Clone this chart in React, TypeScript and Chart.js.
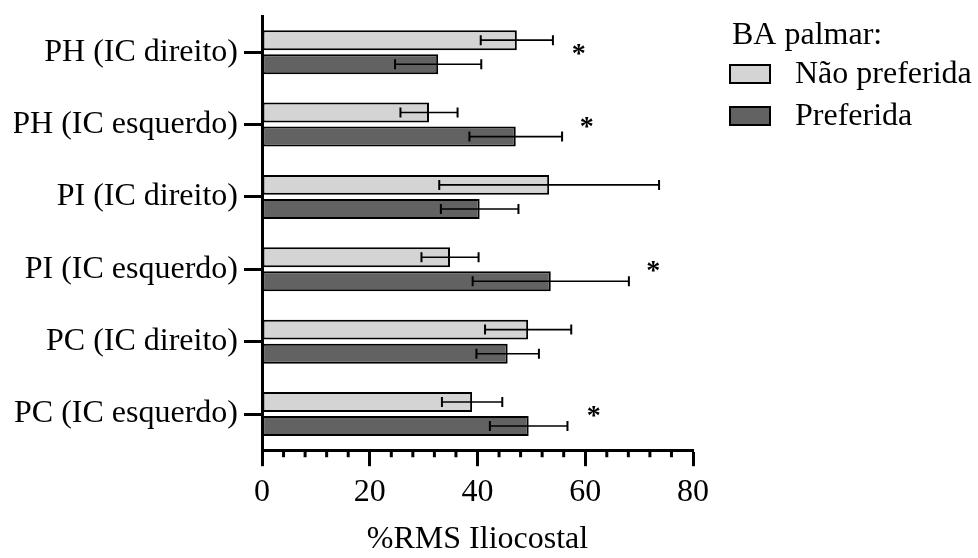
import { useEffect, useRef } from 'react';
import { Chart, registerables } from 'chart.js';

Chart.register(...registerables);

const categories = [
  'PH (IC direito)',
  'PH (IC esquerdo)',
  'PI (IC direito)',
  'PI (IC esquerdo)',
  'PC (IC direito)',
  'PC (IC esquerdo)',
];
const seriesNames = ['Não preferida', 'Preferida'];
const naoPreferida = [47.3, 31.0, 53.3, 34.9, 49.4, 39.0];
const naoPreferidaSD = [6.7, 5.3, 20.4, 5.3, 8.0, 5.6];
const preferida = [32.7, 47.1, 40.4, 53.6, 45.6, 49.5];
const preferidaSD = [8.0, 8.6, 7.2, 14.5, 5.8, 7.2];
const asteriskAt: (number | null)[] = [58.8, 60.3, null, 72.6, null, 61.6];
const legendTitle = 'BA palmar:';
const xMin = 0;
const xMax = 80;
const xMajorStep = 20;
const xMinorStep = 4;

const FONT = "'Liberation Serif', 'Times New Roman', serif";

const errorBars = {
  id: 'errorBars',
  afterDatasetsDraw(chart: any) {
    const ctx = chart.ctx;
    const xs = chart.scales.x;
    chart.data.datasets.forEach((ds: any, di: number) => {
      const meta = chart.getDatasetMeta(di);
      meta.data.forEach((bar: any, i: number) => {
        const v = ds.data[i];
        const e = ds.errors[i];
        const x1 = xs.getPixelForValue(v - e);
        const x2 = xs.getPixelForValue(v + e);
        const y = bar.y;
        ctx.save();
        ctx.strokeStyle = '#000';
        ctx.lineWidth = 1.6;
        ctx.beginPath();
        ctx.moveTo(x1, y);
        ctx.lineTo(x2, y);
        ctx.stroke();
        ctx.lineWidth = 2;
        ctx.beginPath();
        ctx.moveTo(x1, y - 5);
        ctx.lineTo(x1, y + 5);
        ctx.moveTo(x2, y - 5);
        ctx.lineTo(x2, y + 5);
        ctx.stroke();
        ctx.restore();
      });
    });
  },
};

const minorTicks = {
  id: 'minorTicks',
  afterDraw(chart: any) {
    const ctx = chart.ctx;
    const xs = chart.scales.x;
    const y0 = chart.chartArea.bottom;
    ctx.save();
    ctx.strokeStyle = '#000';
    ctx.lineWidth = 3;
    ctx.beginPath();
    for (let v = xMin; v <= xMax; v += xMinorStep) {
      if (v % xMajorStep === 0) continue;
      const px = xs.getPixelForValue(v);
      ctx.moveTo(px, y0);
      ctx.lineTo(px, y0 + 7);
    }
    ctx.stroke();
    ctx.restore();
  },
};

const asterisks = {
  id: 'asterisks',
  afterDatasetsDraw(chart: any) {
    const ctx = chart.ctx;
    const xs = chart.scales.x;
    const ys = chart.scales.y;
    ctx.save();
    ctx.fillStyle = '#000';
    ctx.font = `bold 28px ${FONT}`;
    ctx.textAlign = 'center';
    ctx.textBaseline = 'alphabetic';
    asteriskAt.forEach((v, i) => {
      if (v === null) return;
      ctx.fillText('*', xs.getPixelForValue(v), ys.getPixelForValue(i) + 10);
    });
    ctx.restore();
  },
};

// Legend drawn to the right of the plot, using the datasets' own labels and colours
const sideLegend = {
  id: 'sideLegend',
  afterDraw(chart: any) {
    const ctx = chart.ctx;
    const left = chart.chartArea.right + 36;
    const top = chart.chartArea.top;
    ctx.save();
    ctx.fillStyle = '#000';
    ctx.font = `32px ${FONT}`;
    ctx.textAlign = 'left';
    ctx.textBaseline = 'middle';
    ctx.fillText(legendTitle, left + 3, top + 20);
    chart.data.datasets.forEach((ds: any, i: number) => {
      const cy = top + 58 + i * 42;
      ctx.fillStyle = ds.backgroundColor;
      ctx.fillRect(left + 1, cy - 9, 40, 18);
      ctx.strokeStyle = '#000';
      ctx.lineWidth = 2;
      ctx.strokeRect(left + 1, cy - 9, 40, 18);
      ctx.fillStyle = '#000';
      ctx.fillText(ds.label, left + 66, cy + 1);
    });
    ctx.restore();
  },
};

export default function App() {
  const ref = useRef<HTMLCanvasElement | null>(null);
  useEffect(() => {
    if (!ref.current) return;
    const chart = new Chart(ref.current, {
      type: 'bar',
      data: {
        labels: categories,
        datasets: [
          {
            label: seriesNames[0],
            data: naoPreferida,
            errors: naoPreferidaSD,
            backgroundColor: '#d4d4d4',
            borderColor: '#000',
            borderWidth: 2,
            borderSkipped: false,
            categoryPercentage: 0.665,
            barPercentage: 0.83,
          } as any,
          {
            label: seriesNames[1],
            data: preferida,
            errors: preferidaSD,
            backgroundColor: '#626262',
            borderColor: '#000',
            borderWidth: 2,
            borderSkipped: false,
            categoryPercentage: 0.665,
            barPercentage: 0.83,
          } as any,
        ],
      },
      options: {
        indexAxis: 'y',
        animation: false,
        responsive: true,
        maintainAspectRatio: false,
        layout: { padding: { top: 16, left: 14, right: 285, bottom: 0 } },
        scales: {
          x: {
            type: 'linear',
            min: xMin,
            max: xMax,
            ticks: {
              stepSize: xMajorStep,
              color: '#000',
              padding: 7,
              font: { family: FONT, size: 32 },
            },
            grid: {
              drawOnChartArea: false,
              drawTicks: true,
              tickLength: 16,
              tickWidth: 3,
              tickColor: '#000',
            },
            border: { display: true, color: '#000', width: 3 },
            title: {
              display: true,
              text: '%RMS Iliocostal',
              color: '#000',
              font: { family: FONT, size: 32 },
              padding: { top: 2.2, bottom: -1.2 },
            },
          },
          y: {
            type: 'category',
            offset: true,
            ticks: {
              color: '#000',
              padding: 6,
              font: { family: FONT, size: 32 },
            },
            grid: {
              offset: false,
              drawOnChartArea: false,
              drawTicks: true,
              tickLength: 18,
              tickWidth: 3,
              tickColor: '#000',
            },
            border: { display: true, color: '#000', width: 3 },
            afterFit(scale: any) {
              scale.width = 248;
              scale.paddingTop = 0;
              scale.paddingBottom = 0;
            },
          },
        },
        plugins: {
          tooltip: { enabled: false },
          legend: { display: false },
        },
      } as any,
      plugins: [errorBars, minorTicks, asterisks, sideLegend],
    });
    return () => chart.destroy();
  }, []);
  return (
    <div style={{ position: 'fixed', left: 0, top: 0, width: 978, height: 558, background: '#fff' }}>
      <canvas ref={ref} />
    </div>
  );
}
